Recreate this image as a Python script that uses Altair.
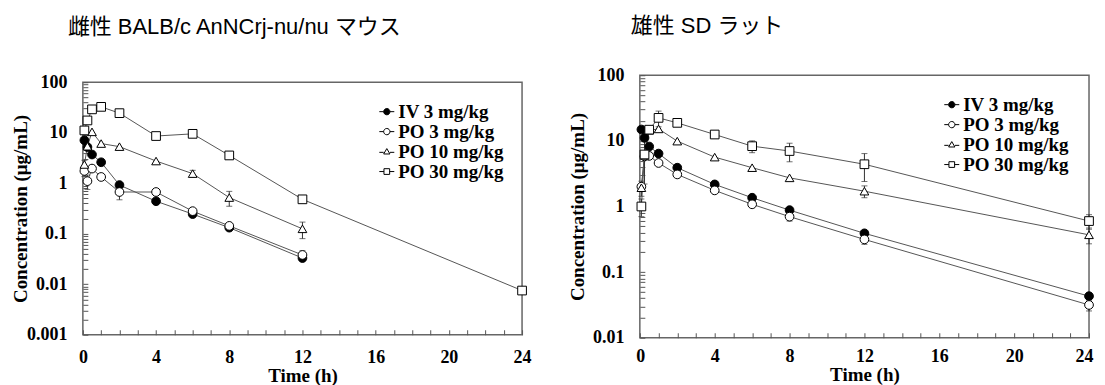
import altair as alt
import pandas as pd

series = ["IV 3 mg/kg", "PO 3 mg/kg", "PO 10 mg/kg", "PO 30 mg/kg"]
times = [0.083, 0.25, 0.5, 1, 2, 4, 6, 8, 12, 24]

# Female BALB/c nude mouse
mouse_iv3 = [7.1, 5.2, 3.7, 2.6, 0.92, 0.44, 0.245, 0.132, 0.033, None]
mouse_po3 = [1.75, 1.1, 1.95, 1.33, 0.67, 0.67, 0.28, 0.143, 0.038, None]
mouse_po10 = [2.35, 5.4, 10.4, 6.1, 5.3, 2.75, 1.55, 0.52, 0.125, None]
mouse_po30 = [11.1, 17.5, 29.0, 32.5, 24.4, 8.6, 9.5, 3.55, 0.48, 0.0075]
mouse_iv3_sd = [0, 0, 0, 0, 0, 0, 0, 0, 0, 0]
mouse_po3_sd = [0.4, 0.35, 0, 0, 0.2, 0, 0, 0, 0.008, 0]
mouse_po10_sd = [0.5, 0, 0, 0, 0, 0, 0.25, 0.17, 0.045, 0]
mouse_po30_sd = [0, 0, 0, 0, 0, 0, 0, 0, 0, 0]

# Male SD rat
rat_iv3 = [14.9, 11.1, 8.2, 6.4, 3.9, 2.17, 1.36, 0.88, 0.39, 0.043]
rat_po3 = [2.0, 5.8, 5.9, 4.6, 3.08, 1.76, 1.08, 0.70, 0.315, 0.0316]
rat_po10 = [1.93, 6.0, 14.5, 15.2, 9.9, 5.65, 3.9, 2.73, 1.71, 0.37]
rat_po30 = [1.0, 6.2, 14.8, 22.4, 18.8, 12.5, 8.3, 7.0, 4.4, 0.6]
rat_iv3_sd = [0, 0, 0, 0, 0, 0, 0, 0, 0, 0]
rat_po3_sd = [0, 0, 0, 0, 0, 0, 0, 0.1, 0.05, 0.006]
rat_po10_sd = [0.5, 0, 0, 0, 0, 0, 0, 0, 0.35, 0.1]
rat_po30_sd = [0.3, 4.0, 0, 6.0, 0, 0, 1.7, 2.2, 2.0, 0.15]

fills = ["black", "white", "white", "white"]
strokes = ["black", "black", "black", "black"]
plot_shapes = ["circle", "circle", "triangle-up", "square"]
legend_shapes = [
    "M-1,0H-0.42M0.42,0H1M-0.42,0A0.42,0.42,0,1,0,0.42,0A0.42,0.42,0,1,0,-0.42,0Z",
    "M-1,0H-0.42M0.42,0H1M-0.42,0A0.42,0.42,0,1,0,0.42,0A0.42,0.42,0,1,0,-0.42,0Z",
    "M-1,0.1H-0.42M0.42,0.1H1M-0.42,0.32L0,-0.4L0.42,0.32Z",
    "M-1,0H-0.38M0.38,0H1M-0.38,-0.38H0.38V0.38H-0.38Z",
]


def build(values, sds):
    rows = []
    for s, vals, sd in zip(series, values, sds):
        for t, v, e in zip(times, vals, sd):
            if v is None:
                continue
            lo = max(v - e, v * 0.05) if e > 0 else v
            rows.append({"series": s, "t": t, "v": v, "sd": e, "lo": lo, "hi": v + e})
    return pd.DataFrame(rows)


mouse_df = build([mouse_iv3, mouse_po3, mouse_po10, mouse_po30],
                 [mouse_iv3_sd, mouse_po3_sd, mouse_po10_sd, mouse_po30_sd])
rat_df = build([rat_iv3, rat_po3, rat_po10, rat_po30],
               [rat_iv3_sd, rat_po3_sd, rat_po10_sd, rat_po30_sd])

AX_FONT = "Liberation Serif"
TITLE_FONT = "Liberation Sans, Noto Sans CJK JP, sans-serif"


def title_params(text, dx, offset):
    return alt.TitleParams(text, anchor="start", dx=dx, offset=offset,
                           font=TITLE_FONT, fontSize=22, fontWeight="normal",
                           color="black", frame="group")


def panel(df, exp_min, width, height, legend_x, legend_y, row_pad, ytitle_pad,
          xlabel_pad, xtitle_pad, flush, title=None):
    yvals = [round(m * 10 ** k, 8) for k in range(exp_min, 2) for m in range(1, 10)] + [100]
    xaxis_kw = dict(values=list(range(25)),
                    labelExpr="datum.value % 4 == 0 ? datum.label : ''",
                    title="Time (h)", offset=-5, tickSize=5, domain=False,
                    grid=False, labelPadding=xlabel_pad, titlePadding=xtitle_pad,
                    labelOverlap=False)
    if flush:
        xaxis_kw.update(labelFlush=True, labelFlushOffset=flush)
    else:
        xaxis_kw.update(labelFlush=False)
    xs = alt.X("t:Q", scale=alt.Scale(domain=[0, 24], nice=False, zero=False),
               axis=alt.Axis(**xaxis_kw))
    ys = alt.Y("v:Q", scale=alt.Scale(type="log", domain=[10 ** exp_min, 100], nice=False),
               axis=alt.Axis(values=yvals, format="~g",
                             labelExpr="abs(log(datum.value)/LN10 - round(log(datum.value)/LN10)) < 0.000001 ? datum.label : ''",
                             title="Concentration (μg/mL)", offset=-5, tickSize=5,
                             domain=False, grid=False, labelPadding=16,
                             titlePadding=ytitle_pad, labelOverlap=False, labelFlush=False))
    base = alt.Chart(df)
    lines = base.mark_line(color="#555", strokeWidth=1).encode(x=xs, y=ys, detail="series:N")
    err = base.transform_filter("datum.sd > 0")
    rules = err.mark_rule(color="#333", strokeWidth=1).encode(
        x=xs, y=alt.Y("lo:Q"), y2="hi:Q")
    caps = err.transform_fold(["lo", "hi"], as_=["end", "ev"]).mark_tick(
        orient="horizontal", size=6, thickness=1, color="#333").encode(
        x=xs, y=alt.Y("ev:Q"))
    pts = base.mark_point(filled=True, opacity=1, size=76).encode(
        x=xs, y=ys,
        shape=alt.Shape("series:N", scale=alt.Scale(domain=series, range=plot_shapes), legend=None),
        fill=alt.Fill("series:N", scale=alt.Scale(domain=series, range=fills), legend=None),
        stroke=alt.value("black"), strokeWidth=alt.value(1))
    leg = alt.Legend(title=None, orient="none", legendX=legend_x, legendY=legend_y,
                     symbolSize=225, symbolStrokeWidth=1, symbolStrokeColor="black",
                     labelFont=AX_FONT, labelFontWeight="bold", labelFontSize=19,
                     labelColor="black", rowPadding=row_pad, labelOffset=2, padding=0)
    legend_layer = base.transform_filter("false").mark_point(
        filled=True, strokeWidth=1, opacity=1).encode(
        x=xs, y=ys,
        shape=alt.Shape("series:N", scale=alt.Scale(domain=series, range=legend_shapes), legend=leg),
        fill=alt.Fill("series:N", scale=alt.Scale(domain=series, range=fills), legend=leg),
        stroke=alt.Stroke("series:N", scale=alt.Scale(domain=series, range=strokes), legend=leg))
    props = dict(width=width, height=height)
    if title is not None:
        props["title"] = title
    return alt.layer(lines, rules, caps, pts, legend_layer).resolve_scale(
        shape="independent", fill="independent", stroke="independent").properties(**props)


left_panel = panel(mouse_df, -3, 440, 253, 295, 20, -5, -4, 14, 0, 0)
spacer = alt.Chart(pd.DataFrame({"a": [0]})).mark_text(text="").properties(
    width=440, height=1,
    view=alt.ViewBackground(stroke="transparent", strokeWidth=0),
    title=title_params("雌性 BALB/c AnNCrj-nu/nu マウス", -15, 31))
left = alt.vconcat(spacer, left_panel, spacing=-9).resolve_scale(
    shape="independent", fill="independent", stroke="independent")

right = panel(rat_df, -2, 450, 263, 303, 20, -2, 5, 10, 0, 4,
              title=title_params("雄性 SD ラット", -9, 28))

chart = alt.hconcat(left, right, spacing=35).resolve_scale(
    shape="independent", fill="independent", stroke="independent").properties(
    padding={"left": 2, "top": 6, "right": 0, "bottom": 0}).configure_view(
    stroke="#666", strokeWidth=1.5).configure_axis(
    labelFont=AX_FONT, labelFontWeight="bold", labelFontSize=18, labelColor="black",
    titleFont=AX_FONT, titleFontWeight="bold", titleFontSize=19, titleColor="black",
    tickColor="#555", tickWidth=1)

chart.save("out.html", embed_options={"renderer": "svg", "actions": False})
